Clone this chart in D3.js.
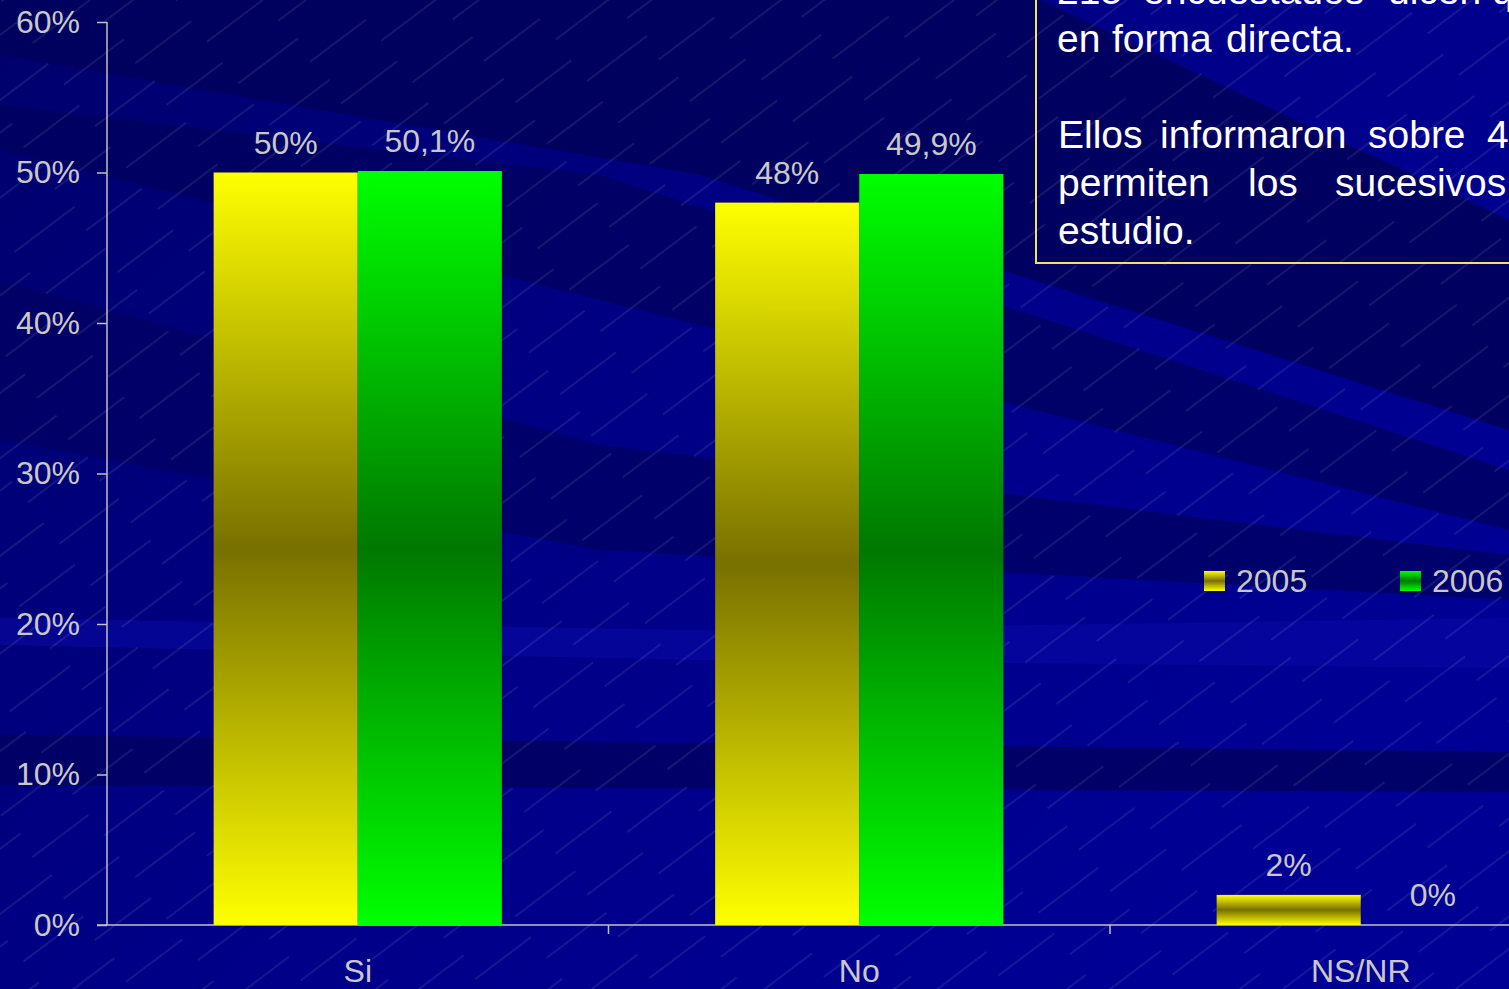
<!DOCTYPE html>
<html><head><meta charset="utf-8">
<script src="https://cdn.jsdelivr.net/npm/d3@7"></script>
<style>html,body{margin:0;padding:0;overflow:hidden;background:#000088}svg{display:block}</style>
</head><body>
<svg id="c" width="1509" height="989"></svg>
<script>
const categories = ["Si", "No", "NS/NR"];
const seriesNames = ["2005", "2006"];
const values2005 = [50, 48, 2];
const values2006 = [50.1, 49.9, 0];
const yTicks = [0, 10, 20, 30, 40, 50, 60];
const boxLines = [
  ["215", "encuestados", "dicen", "que"],
  ["en", "forma", "directa."],
  [],
  ["Ellos", "informaron", "sobre", "4"],
  ["permiten", "los", "sucesivos"],
  ["estudio."]
];
const boxWordX = [
  [1057, 1143, 1388, 1492],
  [1057, 1112, 1226],
  [],
  [1058, 1160, 1368, 1487],
  [1058, 1248, 1335],
  [1058]
];

const W = 1509, H = 989;
const svg = d3.select("#c");
const defs = svg.append("defs");

// background
const bg = defs.append("linearGradient").attr("id","bg").attr("x1",0).attr("y1",0).attr("x2",1).attr("y2",0.6);
bg.append("stop").attr("offset",0).attr("stop-color","#00006c");
bg.append("stop").attr("offset",0.5).attr("stop-color","#000086");
bg.append("stop").attr("offset",1).attr("stop-color","#000094");
svg.append("rect").attr("width",W).attr("height",H).attr("fill","url(#bg)");

const bands = [
  {pts:[[0,0],[1040,0],[1509,220],[1509,430],[700,175],[0,55]], c:"#00005c", o:0.9},
  {pts:[[0,105],[0,150],[600,300],[1509,530],[1509,470],[600,175]], c:"#00005e", o:0.75},
  {pts:[[0,280],[0,440],[600,550],[1509,600],[1509,555],[600,445]], c:"#000064", o:0.8},
  {pts:[[0,618],[0,645],[700,660],[1509,668],[1509,618],[700,630]], c:"#0a0aa8", o:0.5},
  {pts:[[0,735],[0,785],[1509,792],[1509,752]], c:"#000064", o:0.9}
];
svg.append("g").selectAll("path").data(bands).join("path")
  .attr("d", d => d3.line()(d.pts) + "Z").attr("fill", d => d.c).attr("opacity", d => d.o);

const pat = defs.append("pattern").attr("id","hatch").attr("patternUnits","userSpaceOnUse")
  .attr("width",140).attr("height",52).attr("patternTransform","rotate(-37)");
pat.append("line").attr("x1",0).attr("y1",2).attr("x2",75).attr("y2",2)
  .attr("stroke","#ffffff").attr("stroke-opacity",0.22).attr("stroke-width",0.8);
pat.append("line").attr("x1",70).attr("y1",28).attr("x2",140).attr("y2",28)
  .attr("stroke","#ffffff").attr("stroke-opacity",0.22).attr("stroke-width",0.8);
svg.append("rect").attr("width",W).attr("height",H).attr("fill","url(#hatch)");

// gradients for bars
function grad(id, light, dark){
  const g = defs.append("linearGradient").attr("id",id).attr("x1",0).attr("y1",0).attr("x2",0).attr("y2",1);
  g.append("stop").attr("offset",0).attr("stop-color",light);
  g.append("stop").attr("offset",0.5).attr("stop-color",dark);
  g.append("stop").attr("offset",1).attr("stop-color",light);
}
grad("g2005","#ffff00","#787000");
grad("g2006","#00ff00","#007800");
const fills = {"2005":"url(#g2005)","2006":"url(#g2006)"};

// scales
const y = d3.scaleLinear().domain([0,60]).range([925,22]);
const x0 = d3.scaleBand().domain(categories).range([107, 107 + 3*501.5]).paddingInner(0).paddingOuter(0);
const x1 = d3.scaleBand().domain(seriesNames).range([0, x0.bandwidth()]).paddingInner(0).paddingOuter(0.74);

const textCol = "#c8c8c8";
const font = "'Liberation Sans', Arial, sans-serif";

// y axis
const yAxis = d3.axisLeft(y).tickValues(yTicks).tickFormat(d => d + "%").tickSize(10).tickPadding(17);
const ga = svg.append("g").attr("transform","translate(107,0)").call(yAxis);
ga.select(".domain").attr("stroke","#c0c0c0").attr("stroke-width",1.5).attr("d","M0,22V925");
ga.selectAll(".tick line").attr("stroke","#c0c0c0").attr("stroke-width",1.5);
ga.selectAll(".tick text").attr("fill",textCol).attr("font-size",32).attr("font-family",font);

// x axis
const xAxis = d3.axisBottom(x0).tickSize(0).tickPadding(34);
const gx = svg.append("g").attr("transform","translate(0,925)").call(xAxis);
gx.select(".domain").attr("stroke","#c0c0c0").attr("stroke-width",1.5).attr("d","M97,0H1509");
gx.selectAll(".tick text").attr("fill",textCol).attr("font-size",32).attr("font-family",font).attr("dy","0.71em");
svg.append("g").selectAll("line").data(categories.slice(1)).join("line")
  .attr("x1", d => x0(d)).attr("x2", d => x0(d)).attr("y1",925).attr("y2",934)
  .attr("stroke","#c0c0c0").attr("stroke-width",1.5);

// bars
const rows = categories.map((c,i) => ({cat:c, vals:[{s:"2005", v:values2005[i]},{s:"2006", v:values2006[i]}]}));
const fmt = v => (Number.isInteger(v) ? String(v) : v.toFixed(1).replace(".", ",")) + "%";
const grp = svg.append("g").selectAll("g").data(rows).join("g").attr("transform", d => `translate(${x0(d.cat)},0)`);
grp.selectAll("rect").data(d => d.vals.filter(e => e.v > 0)).join("rect")
  .attr("x", d => x1(d.s)).attr("width", x1.bandwidth())
  .attr("y", d => y(d.v)).attr("height", d => y(0) - y(d.v))
  .attr("fill", d => fills[d.s]);
grp.selectAll("text").data(d => d.vals).join("text")
  .attr("x", d => x1(d.s) + x1.bandwidth()/2).attr("y", d => y(d.v) - 19)
  .attr("text-anchor","middle").attr("fill",textCol).attr("font-size",32).attr("font-family",font)
  .text(d => fmt(d.v));

// legend
const legX = [1204, 1400];
const lg = svg.append("g").selectAll("g").data(seriesNames).join("g")
  .attr("transform", (d,i) => `translate(${legX[i]},571)`);
lg.append("rect").attr("width",21).attr("height",20).attr("fill", d => fills[d]);
lg.append("text").attr("x",32).attr("y",21).attr("fill",textCol).attr("font-size",32).attr("font-family",font).text(d => d);

// text box
svg.append("rect").attr("x",1036).attr("y",-10).attr("width",520).attr("height",273)
  .attr("fill","none").attr("stroke","#f0e070").attr("stroke-width",2);
const tb = svg.append("g").attr("fill","#ffffff").attr("font-size",39).attr("font-family",font);
boxLines.forEach((words, li) => {
  words.forEach((w, wi) => {
    tb.append("text").attr("x", boxWordX[li][wi]).attr("y", 4 + li*48).text(w);
  });
});
</script>
</body></html>
